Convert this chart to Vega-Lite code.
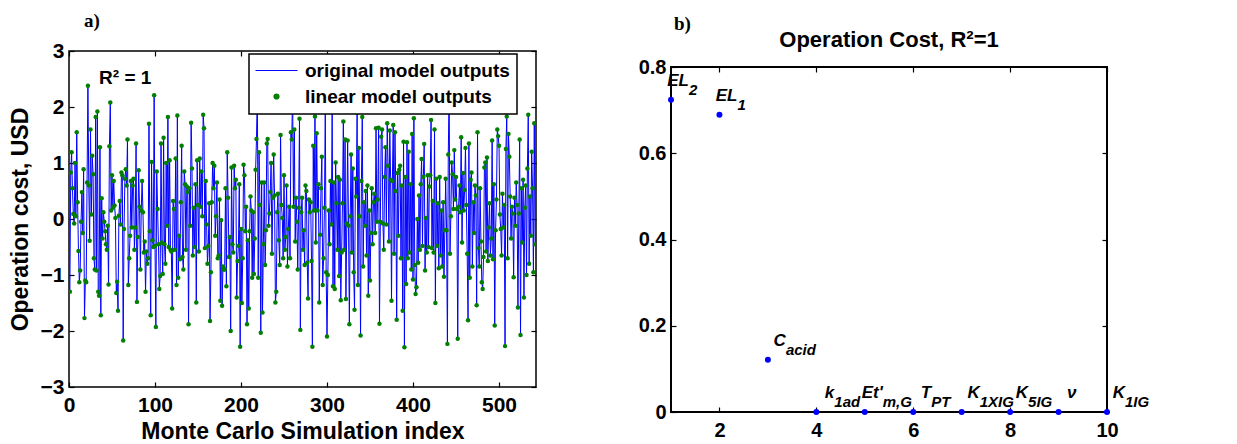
{
"$schema": "https://vega.github.io/schema/vega-lite/v6.json",
"padding": {"left": 8, "top": 11, "right": 0, "bottom": 0},
"spacing": 100,
"config": {
  "view": {"stroke": "black", "strokeWidth": 1.5},
  "font": "Liberation Sans",
  "axis": {"grid": false, "domain": false, "tickColor": "black", "tickSize": -5, "tickWidth": 1.2, "labelFont": "Liberation Sans", "labelFontWeight": "bold", "labelFontSize": 21, "labelColor": "black", "titleFont": "Liberation Sans", "titleFontWeight": "bold", "titleFontSize": 23, "titleColor": "black", "labelFlush": false}
},
"datasets": {
"mc": [
{"i":1,"v":-1.30},{"i":2,"v":0.83},{"i":3,"v":1.19},{"i":4,"v":0.55},{"i":5,"v":0.09},{"i":6,"v":-0.08},{"i":7,"v":1.00},{"i":8,"v":0.05},{"i":9,"v":1.55},{"i":10,"v":0.30},
{"i":11,"v":-0.57},{"i":12,"v":-1.13},{"i":13,"v":-0.92},{"i":14,"v":-0.05},{"i":15,"v":0.48},{"i":16,"v":-0.25},{"i":17,"v":0.89},{"i":18,"v":-1.77},{"i":19,"v":-1.10},{"i":20,"v":-1.13},
{"i":21,"v":0.65},{"i":22,"v":2.38},{"i":23,"v":0.60},{"i":24,"v":-0.39},{"i":25,"v":1.60},{"i":26,"v":0.08},{"i":27,"v":1.13},{"i":28,"v":0.80},{"i":29,"v":-0.70},{"i":30,"v":-0.90},
{"i":31,"v":1.82},{"i":32,"v":-0.92},{"i":33,"v":1.92},{"i":34,"v":-1.30},{"i":35,"v":-1.37},{"i":36,"v":1.28},{"i":37,"v":-1.72},{"i":38,"v":0.37},{"i":39,"v":-0.35},{"i":40,"v":0.12},
{"i":41,"v":-0.05},{"i":42,"v":-0.22},{"i":43,"v":-0.45},{"i":44,"v":-0.55},{"i":45,"v":-0.12},{"i":46,"v":-1.17},{"i":47,"v":1.30},{"i":48,"v":2.08},{"i":49,"v":0.15},{"i":50,"v":0.78},
{"i":51,"v":0.20},{"i":52,"v":0.68},{"i":53,"v":0.24},{"i":54,"v":0.02},{"i":55,"v":-1.32},{"i":56,"v":-1.12},{"i":57,"v":-1.64},{"i":58,"v":0.06},{"i":59,"v":0.32},{"i":60,"v":-0.10},
{"i":61,"v":0.83},{"i":62,"v":0.78},{"i":63,"v":-2.17},{"i":64,"v":-0.18},{"i":65,"v":0.72},{"i":66,"v":0.89},{"i":67,"v":0.60},{"i":68,"v":1.42},{"i":69,"v":-1.18},{"i":70,"v":-0.70},
{"i":71,"v":-0.30},{"i":72,"v":0.68},{"i":73,"v":-0.15},{"i":74,"v":0.60},{"i":75,"v":0.72},{"i":76,"v":-0.55},{"i":77,"v":-0.15},{"i":78,"v":1.35},{"i":79,"v":-1.48},{"i":80,"v":-0.32},
{"i":81,"v":0.87},{"i":82,"v":0.22},{"i":83,"v":-0.90},{"i":84,"v":0.15},{"i":85,"v":0.68},{"i":86,"v":0.12},{"i":87,"v":-0.60},{"i":88,"v":-0.40},{"i":89,"v":-1.30},{"i":90,"v":-0.58},
{"i":91,"v":-0.80},{"i":92,"v":-0.70},{"i":93,"v":1.70},{"i":94,"v":-0.22},{"i":95,"v":-1.72},{"i":96,"v":1.02},{"i":97,"v":-0.38},{"i":98,"v":-0.50},{"i":99,"v":2.21},{"i":100,"v":-0.48},
{"i":101,"v":-1.93},{"i":102,"v":0.85},{"i":103,"v":0.18},{"i":104,"v":-0.45},{"i":105,"v":-1.25},{"i":106,"v":-1.02},{"i":107,"v":1.35},{"i":108,"v":-0.42},{"i":109,"v":-0.98},{"i":110,"v":1.45},
{"i":111,"v":-0.45},{"i":112,"v":-0.80},{"i":113,"v":1.00},{"i":114,"v":-0.12},{"i":115,"v":1.82},{"i":116,"v":-0.50},{"i":117,"v":1.05},{"i":118,"v":-0.55},{"i":119,"v":-0.58},{"i":120,"v":-1.60},
{"i":121,"v":0.32},{"i":122,"v":0.18},{"i":123,"v":-0.55},{"i":124,"v":1.08},{"i":125,"v":-1.18},{"i":126,"v":1.85},{"i":127,"v":-1.05},{"i":128,"v":-0.30},{"i":129,"v":-0.72},{"i":130,"v":0.30},
{"i":131,"v":1.31},{"i":132,"v":-0.68},{"i":133,"v":-0.90},{"i":134,"v":0.85},{"i":135,"v":0.62},{"i":136,"v":-0.55},{"i":137,"v":0.58},{"i":138,"v":0.48},{"i":139,"v":-1.88},{"i":140,"v":0.55},
{"i":141,"v":-0.12},{"i":142,"v":1.72},{"i":143,"v":0.90},{"i":144,"v":-0.65},{"i":145,"v":0.20},{"i":146,"v":-0.50},{"i":147,"v":0.62},{"i":148,"v":-1.49},{"i":149,"v":1.05},{"i":150,"v":0.25},
{"i":151,"v":-0.58},{"i":152,"v":1.08},{"i":153,"v":0.22},{"i":154,"v":0.85},{"i":155,"v":0.05},{"i":156,"v":1.86},{"i":157,"v":1.62},{"i":158,"v":-0.52},{"i":159,"v":0.68},{"i":160,"v":-0.10},
{"i":161,"v":-0.80},{"i":162,"v":-0.48},{"i":163,"v":0.28},{"i":164,"v":-1.82},{"i":165,"v":-0.95},{"i":166,"v":0.30},{"i":167,"v":1.00},{"i":168,"v":0.55},{"i":169,"v":0.95},{"i":170,"v":-0.30},
{"i":171,"v":0.05},{"i":172,"v":0.65},{"i":173,"v":-0.70},{"i":174,"v":-0.65},{"i":175,"v":0.35},{"i":176,"v":-1.46},{"i":177,"v":-0.02},{"i":178,"v":-1.55},{"i":179,"v":-0.85},{"i":180,"v":-0.90},
{"i":181,"v":-0.90},{"i":182,"v":0.55},{"i":183,"v":-1.20},{"i":184,"v":1.19},{"i":185,"v":0.38},{"i":186,"v":-0.68},{"i":187,"v":-0.32},{"i":188,"v":-2.00},{"i":189,"v":0.92},{"i":190,"v":-0.45},
{"i":191,"v":-0.60},{"i":192,"v":0.95},{"i":193,"v":0.55},{"i":194,"v":0.70},{"i":195,"v":-1.40},{"i":196,"v":-0.75},{"i":197,"v":-0.48},{"i":198,"v":0.62},{"i":199,"v":-2.28},{"i":200,"v":-0.18},
{"i":201,"v":-1.50},{"i":202,"v":-0.70},{"i":203,"v":0.97},{"i":204,"v":0.78},{"i":205,"v":-0.22},{"i":206,"v":0.22},{"i":207,"v":-1.88},{"i":208,"v":-0.38},{"i":209,"v":-1.60},{"i":210,"v":-0.22},
{"i":211,"v":0.40},{"i":212,"v":0.15},{"i":213,"v":-1.05},{"i":214,"v":0.12},{"i":215,"v":-0.98},{"i":216,"v":-0.35},{"i":217,"v":0.88},{"i":218,"v":1.43},{"i":219,"v":2.30},{"i":220,"v":-1.05},
{"i":221,"v":1.19},{"i":222,"v":0.25},{"i":223,"v":-2.03},{"i":224,"v":0.65},{"i":225,"v":-1.67},{"i":226,"v":-0.45},{"i":227,"v":0.65},{"i":228,"v":-0.82},{"i":229,"v":-0.20},{"i":230,"v":1.35},
{"i":231,"v":1.43},{"i":232,"v":-0.12},{"i":233,"v":0.10},{"i":234,"v":0.48},{"i":235,"v":1.00},{"i":236,"v":-0.62},{"i":237,"v":0.38},{"i":238,"v":1.15},{"i":239,"v":0.42},{"i":240,"v":-1.49},
{"i":241,"v":-1.30},{"i":242,"v":0.12},{"i":243,"v":0.45},{"i":244,"v":-0.38},{"i":245,"v":-0.82},{"i":246,"v":1.50},{"i":247,"v":0.25},{"i":248,"v":0.02},{"i":249,"v":-0.70},{"i":250,"v":0.78},
{"i":251,"v":-0.55},{"i":252,"v":-0.32},{"i":253,"v":0.60},{"i":254,"v":-0.85},{"i":255,"v":-0.18},{"i":256,"v":0.22},{"i":257,"v":-0.70},{"i":258,"v":1.55},{"i":259,"v":1.42},{"i":260,"v":2.25},
{"i":261,"v":0.22},{"i":262,"v":1.60},{"i":263,"v":-0.40},{"i":264,"v":0.38},{"i":265,"v":-0.05},{"i":266,"v":-0.90},{"i":267,"v":0.20},{"i":268,"v":1.79},{"i":269,"v":-1.98},{"i":270,"v":0.12},
{"i":271,"v":0.38},{"i":272,"v":-0.55},{"i":273,"v":-0.20},{"i":274,"v":-0.82},{"i":275,"v":0.60},{"i":276,"v":0.50},{"i":277,"v":-0.78},{"i":278,"v":-1.42},{"i":279,"v":0.35},{"i":280,"v":0.12},
{"i":281,"v":0.30},{"i":282,"v":-0.75},{"i":283,"v":-2.28},{"i":284,"v":1.31},{"i":285,"v":0.15},{"i":286,"v":1.83},{"i":287,"v":-0.42},{"i":288,"v":1.53},{"i":289,"v":0.15},{"i":290,"v":0.62},
{"i":291,"v":-1.49},{"i":292,"v":-0.28},{"i":293,"v":0.55},{"i":294,"v":1.11},{"i":295,"v":-1.18},{"i":296,"v":-0.70},{"i":297,"v":0.20},{"i":298,"v":1.95},{"i":299,"v":-0.95},{"i":300,"v":-2.10},
{"i":301,"v":-1.00},{"i":302,"v":0.15},{"i":303,"v":-0.45},{"i":304,"v":0.68},{"i":305,"v":-0.10},{"i":306,"v":1.96},{"i":307,"v":-1.20},{"i":308,"v":0.65},{"i":309,"v":-1.25},{"i":310,"v":1.01},
{"i":311,"v":0.28},{"i":312,"v":-0.55},{"i":313,"v":0.75},{"i":314,"v":-1.02},{"i":315,"v":0.70},{"i":316,"v":-1.45},{"i":317,"v":-0.60},{"i":318,"v":0.28},{"i":319,"v":1.74},{"i":320,"v":-0.55},
{"i":321,"v":1.42},{"i":322,"v":-1.43},{"i":323,"v":-0.08},{"i":324,"v":1.40},{"i":325,"v":-0.12},{"i":326,"v":-1.88},{"i":327,"v":0.05},{"i":328,"v":1.15},{"i":329,"v":-0.60},{"i":330,"v":0.90},
{"i":331,"v":-0.95},{"i":332,"v":-1.62},{"i":333,"v":0.72},{"i":334,"v":0.40},{"i":335,"v":1.90},{"i":336,"v":-1.18},{"i":337,"v":1.27},{"i":338,"v":0.05},{"i":339,"v":-2.08},{"i":340,"v":0.68},
{"i":341,"v":1.82},{"i":342,"v":-0.85},{"i":343,"v":0.30},{"i":344,"v":-0.12},{"i":345,"v":0.50},{"i":346,"v":-0.65},{"i":347,"v":0.60},{"i":348,"v":-1.37},{"i":349,"v":0.15},{"i":350,"v":-1.10},
{"i":351,"v":-0.25},{"i":352,"v":0.55},{"i":353,"v":-0.45},{"i":354,"v":0.30},{"i":355,"v":0.45},{"i":356,"v":-0.25},{"i":357,"v":1.62},{"i":358,"v":-0.05},{"i":359,"v":0.35},{"i":360,"v":1.63},
{"i":361,"v":-1.87},{"i":362,"v":-0.05},{"i":363,"v":1.47},{"i":364,"v":1.60},{"i":365,"v":-0.08},{"i":366,"v":-0.55},{"i":367,"v":0.75},{"i":368,"v":1.28},{"i":369,"v":-0.10},{"i":370,"v":1.71},
{"i":371,"v":0.95},{"i":372,"v":-0.40},{"i":373,"v":1.58},{"i":374,"v":0.70},{"i":375,"v":-1.46},{"i":376,"v":0.68},{"i":377,"v":1.68},{"i":378,"v":-0.62},{"i":379,"v":1.55},{"i":380,"v":0.50},
{"i":381,"v":-1.80},{"i":382,"v":0.82},{"i":383,"v":-0.30},{"i":384,"v":0.88},{"i":385,"v":0.95},{"i":386,"v":-0.70},{"i":387,"v":0.60},{"i":388,"v":-1.64},{"i":389,"v":1.38},{"i":390,"v":-2.29},
{"i":391,"v":0.75},{"i":392,"v":-1.16},{"i":393,"v":1.37},{"i":394,"v":-0.70},{"i":395,"v":1.20},{"i":396,"v":-0.60},{"i":397,"v":0.62},{"i":398,"v":-0.90},{"i":399,"v":1.52},{"i":400,"v":-1.08},
{"i":401,"v":1.80},{"i":402,"v":-0.82},{"i":403,"v":-1.34},{"i":404,"v":-1.22},{"i":405,"v":0.00},{"i":406,"v":-0.78},{"i":407,"v":0.42},{"i":408,"v":-0.55},{"i":409,"v":0.62},{"i":410,"v":1.07},
{"i":411,"v":-0.48},{"i":412,"v":0.75},{"i":413,"v":1.34},{"i":414,"v":-0.92},{"i":415,"v":0.02},{"i":416,"v":-0.60},{"i":417,"v":0.78},{"i":418,"v":-0.50},{"i":419,"v":0.58},{"i":420,"v":0.78},
{"i":421,"v":1.77},{"i":422,"v":-0.52},{"i":423,"v":0.32},{"i":424,"v":-0.60},{"i":425,"v":1.60},{"i":426,"v":-1.50},{"i":427,"v":0.72},{"i":428,"v":-0.48},{"i":429,"v":0.28},{"i":430,"v":-0.88},
{"i":431,"v":0.75},{"i":432,"v":-0.65},{"i":433,"v":0.15},{"i":434,"v":-0.85},{"i":435,"v":0.30},{"i":436,"v":-1.03},{"i":437,"v":-0.20},{"i":438,"v":0.72},{"i":439,"v":-0.20},{"i":440,"v":-2.23},
{"i":441,"v":1.15},{"i":442,"v":2.30},{"i":443,"v":-0.62},{"i":444,"v":0.05},{"i":445,"v":1.01},{"i":446,"v":0.80},{"i":447,"v":0.18},{"i":448,"v":1.23},{"i":449,"v":0.35},{"i":450,"v":0.75},
{"i":451,"v":0.18},{"i":452,"v":-2.14},{"i":453,"v":0.22},{"i":454,"v":0.60},{"i":455,"v":0.12},{"i":456,"v":1.46},{"i":457,"v":-0.42},{"i":458,"v":0.82},{"i":459,"v":0.15},{"i":460,"v":0.52},
{"i":461,"v":1.27},{"i":462,"v":0.25},{"i":463,"v":-0.62},{"i":464,"v":-1.81},{"i":465,"v":1.35},{"i":466,"v":-1.05},{"i":467,"v":0.70},{"i":468,"v":0.83},{"i":469,"v":-0.85},{"i":470,"v":0.30},
{"i":471,"v":-0.25},{"i":472,"v":0.60},{"i":473,"v":0.42},{"i":474,"v":-1.54},{"i":475,"v":1.55},{"i":476,"v":-0.52},{"i":477,"v":-0.85},{"i":478,"v":0.55},{"i":479,"v":-0.40},{"i":480,"v":-1.13},
{"i":481,"v":-1.25},{"i":482,"v":-0.68},{"i":483,"v":0.92},{"i":484,"v":1.01},{"i":485,"v":-0.58},{"i":486,"v":1.10},{"i":487,"v":-0.75},{"i":488,"v":-0.15},{"i":489,"v":0.28},{"i":490,"v":-0.65},
{"i":491,"v":-0.35},{"i":492,"v":1.40},{"i":493,"v":-0.72},{"i":494,"v":0.62},{"i":495,"v":-1.90},{"i":496,"v":-0.20},{"i":497,"v":0.35},{"i":498,"v":1.60},{"i":499,"v":1.48},{"i":500,"v":1.31},
{"i":501,"v":0.08},{"i":502,"v":-0.18},{"i":503,"v":-0.65},{"i":504,"v":0.45},{"i":505,"v":-0.15},{"i":506,"v":0.25},{"i":507,"v":-2.27},{"i":508,"v":1.25},{"i":509,"v":1.83},{"i":510,"v":-0.70},
{"i":511,"v":1.52},{"i":512,"v":1.11},{"i":513,"v":0.40},{"i":514,"v":-0.35},{"i":515,"v":0.22},{"i":516,"v":0.10},{"i":517,"v":-1.04},{"i":518,"v":0.38},{"i":519,"v":-0.12},{"i":520,"v":0.65},
{"i":521,"v":0.25},{"i":522,"v":-1.58},{"i":523,"v":0.10},{"i":524,"v":1.42},{"i":525,"v":-2.07},{"i":526,"v":0.55},{"i":527,"v":-0.42},{"i":528,"v":0.70},{"i":529,"v":-1.40},{"i":530,"v":0.20},
{"i":531,"v":0.60},{"i":532,"v":-1.00},{"i":533,"v":0.90},{"i":534,"v":1.86},{"i":535,"v":-0.80},{"i":536,"v":0.40},{"i":537,"v":-0.30},{"i":538,"v":1.20},{"i":539,"v":0.55},{"i":540,"v":-0.95},
{"i":541,"v":1.71},{"i":542,"v":-0.45}
],
"sens": [
{"x":1,"y":0.724,"lab":"EL","sub":"2"},
{"x":2,"y":0.689,"lab":"EL","sub":"1"},
{"x":3,"y":0.121,"lab":"C","sub":"acid"},
{"x":4,"y":0,"lab":"k","sub":"1ad"},
{"x":5,"y":0,"lab":"Et'","sub":"m,G"},
{"x":6,"y":0,"lab":"T","sub":"PT"},
{"x":7,"y":0,"lab":"K","sub":"1XIG"},
{"x":8,"y":0,"lab":"K","sub":"5IG"},
{"x":9,"y":0,"lab":"ν","sub":""},
{"x":10,"y":0,"lab":"K","sub":"1IG"}
]
},
"hconcat": [
{
  "width": 467, "height": 336,
  "data": {"name": "mc"},
  "layer": [
    {"mark": {"type": "line", "strokeWidth": 1, "clip": true},
     "encoding": {
       "x": {"field": "i", "type": "quantitative", "scale": {"domain": [0, 543], "nice": false, "zero": false},
             "axis": {"orient": "bottom", "values": [0,100,200,300,400,500], "title": "Monte Carlo Simulation index", "labelPadding": 12, "titlePadding": 5}},
       "y": {"field": "v", "type": "quantitative", "scale": {"domain": [-3, 3], "nice": false},
             "axis": {"orient": "left", "values": [-3,-2,-1,0,1,2,3], "title": "Operation cost, USD", "labelPadding": 10, "titlePadding": 8}},
       "color": {"datum": "original model outputs", "type": "nominal",
                 "scale": {"domain": ["original model outputs", "linear model outputs"], "range": ["#0000ff", "#007f00"]},
                 "legend": {"title": null, "orient": "none", "legendX": 180, "legendY": 3, "strokeColor": "black", "fillColor": "white", "padding": 7, "zindex": 2,
                            "labelFont": "Liberation Sans", "labelFontSize": 19, "labelFontWeight": "bold", "labelColor": "black", "labelLimit": 400,
                            "symbolSize": 100, "symbolOffset": 11, "labelOffset": 19, "rowPadding": 6,
                            "encode": {
                              "legend": {"update": {"strokeWidth": {"value": 1.5}}},
                              "symbols": {"update": {
                                "shape": {"signal": "datum.value === 'original model outputs' ? 'stroke' : 'circle'"},
                                "size": {"signal": "datum.value === 'original model outputs' ? 1764 : 25"},
                                "stroke": {"signal": "datum.value === 'original model outputs' ? '#0000ff' : 'transparent'"},
                                "fill": {"signal": "datum.value === 'original model outputs' ? 'transparent' : '#007f00'"},
                                "strokeWidth": {"value": 1.2},
                                "opacity": {"value": 1}
                              }}
                            }}}
     }},
    {"mark": {"type": "point", "filled": true, "size": 20, "opacity": 1, "clip": true},
     "encoding": {
       "x": {"field": "i", "type": "quantitative", "axis": {"orient": "top", "values": [0,100,200,300,400,500], "labels": false, "title": null}},
       "y": {"field": "v", "type": "quantitative", "axis": {"orient": "right", "values": [-3,-2,-1,0,1,2,3], "labels": false, "title": null}},
       "color": {"datum": "linear model outputs", "type": "nominal"}
     }},
    {"data": {"values": [{}]},
     "mark": {"type": "text", "align": "left", "baseline": "alphabetic", "font": "Liberation Sans", "fontWeight": "bold", "fontSize": 19, "color": "black"},
     "encoding": {
       "x": {"datum": 35, "type": "quantitative", "axis": null},
       "y": {"datum": 2.41, "type": "quantitative", "axis": null},
       "text": {"value": "R² = 1"}
     }},
    {"data": {"values": [{}]},
     "mark": {"type": "text", "align": "left", "baseline": "alphabetic", "font": "Liberation Serif", "fontWeight": "bold", "fontSize": 19, "color": "black"},
     "encoding": {
       "x": {"datum": 17.4, "type": "quantitative", "axis": null},
       "y": {"datum": 3.43, "type": "quantitative", "axis": null},
       "text": {"value": "a)"}
     }}
  ],
  "resolve": {"axis": {"x": "independent", "y": "independent"}}
},
{
  "width": 436, "height": 361,
  "view": {"stroke": null},
  "data": {"name": "sens"},
  "layer": [
    {"data": {"values": [{}]},
     "mark": {"type": "rect", "fill": null, "stroke": "black", "strokeWidth": 2},
     "encoding": {
       "x": {"datum": 1, "type": "quantitative", "scale": {"domain": [1, 10], "nice": false, "zero": false},
             "axis": {"orient": "bottom", "values": [2,4,6,8,10], "title": null, "labelPadding": 13, "labelFontSize": 20}},
       "x2": {"datum": 10},
       "y": {"datum": 0, "type": "quantitative", "scale": {"domain": [0, 0.8], "nice": false, "range": [361, 16]},
             "axis": {"orient": "left", "values": [0,0.2,0.4,0.6,0.8], "title": null, "labelPadding": 10, "labelFontSize": 20, "labelExpr": "datum.value == 0 ? '0' : format(datum.value, '.1f')"}},
       "y2": {"datum": 0.8}
     }},
    {"mark": {"type": "point", "filled": true, "size": 36, "color": "#0000ff", "opacity": 1},
     "encoding": {
       "x": {"field": "x", "type": "quantitative", "axis": {"orient": "top", "offset": -16, "values": [2,4,6,8,10], "labels": false, "title": null}},
       "y": {"field": "y", "type": "quantitative", "axis": {"orient": "right", "values": [0,0.2,0.4,0.6,0.8], "labels": false, "title": null}}
     }},
    {"mark": {"type": "text", "align": "right", "baseline": "alphabetic", "dx": 18, "dy": -14, "font": "Liberation Sans", "fontStyle": "italic", "fontWeight": "bold", "fontSize": 17, "color": "black"},
     "encoding": {
       "x": {"field": "x", "type": "quantitative", "axis": null},
       "y": {"field": "y", "type": "quantitative", "axis": null},
       "text": {"field": "lab"}
     }},
    {"mark": {"type": "text", "align": "left", "baseline": "alphabetic", "dx": 18, "dy": -5, "font": "Liberation Sans", "fontStyle": "italic", "fontWeight": "bold", "fontSize": 15, "color": "black"},
     "encoding": {
       "x": {"field": "x", "type": "quantitative", "axis": null},
       "y": {"field": "y", "type": "quantitative", "axis": null},
       "text": {"field": "sub"}
     }},
    {"data": {"values": [{}]},
     "mark": {"type": "text", "align": "center", "baseline": "alphabetic", "font": "Liberation Sans", "fontWeight": "bold", "fontSize": 22, "color": "black"},
     "encoding": {
       "x": {"datum": 5.5, "type": "quantitative", "axis": null},
       "y": {"datum": 0.846, "type": "quantitative", "axis": null},
       "text": {"value": "Operation Cost, R²=1"}
     }},
    {"data": {"values": [{}]},
     "mark": {"type": "text", "align": "left", "baseline": "alphabetic", "font": "Liberation Serif", "fontWeight": "bold", "fontSize": 19, "color": "black"},
     "encoding": {
       "x": {"datum": 1.06, "type": "quantitative", "axis": null},
       "y": {"datum": 0.886, "type": "quantitative", "axis": null},
       "text": {"value": "b)"}
     }}
  ],
  "resolve": {"axis": {"x": "independent", "y": "independent"}}
}
]
}
